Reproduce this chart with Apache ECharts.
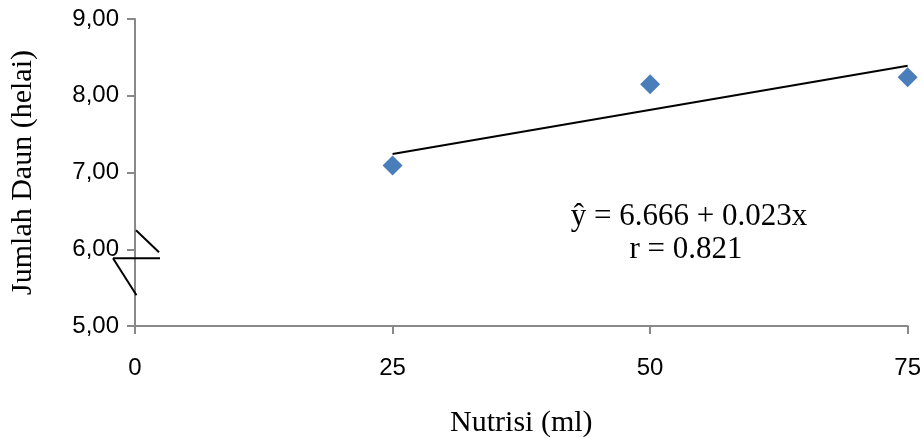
<!DOCTYPE html>
<html>
<head>
<meta charset="utf-8">
<script src="https://cdn.jsdelivr.net/npm/echarts@6/dist/echarts.min.js"></script>
<style>html,body{margin:0;padding:0;background:#fff}#c{width:924px;height:443px}</style>
</head>
<body>
<div id="c"></div>
<script>
const xValues = [25, 50, 75];
const leafCount = [7.09, 8.15, 8.24];
const trendX = [25, 75];
const trendY = [7.24, 8.39];
const xTicks = [0, 25, 50, 75];
const yTicks = [5, 6, 7, 8, 9];
const equationText = 'ŷ = 6.666 + 0.023x';
const rText = 'r = 0.821';
const xTitle = 'Nutrisi (ml)';
const yTitle = 'Jumlah Daun (helai)';

const chart = echarts.init(document.getElementById('c'), null, {renderer: 'canvas'});
const axisColor = '#898989';
const sans = 'Liberation Sans';
const serif = 'Liberation Serif';

chart.setOption({
  animation: false,
  backgroundColor: '#fff',
  grid: {left: 133.5, right: 14.5, top: 19, bottom: 114, containLabel: false},
  xAxis: {
    type: 'value', min: xTicks[0], max: xTicks[xTicks.length - 1], interval: 25,
    name: xTitle, nameLocation: 'middle', nameGap: 82,
    nameTextStyle: {fontFamily: serif, fontSize: 30, color: '#000'},
    axisLine: {show: true, onZero: false, lineStyle: {color: axisColor, width: 2}},
    axisTick: {show: true, length: 8, lineStyle: {color: axisColor, width: 2}},
    axisLabel: {margin: 30, fontFamily: sans, fontSize: 24, color: '#000'},
    splitLine: {show: false}
  },
  yAxis: {
    type: 'value', min: yTicks[0], max: yTicks[yTicks.length - 1], interval: 1,
    name: yTitle, nameLocation: 'middle', nameGap: 97, nameRotate: 90,
    nameTextStyle: {fontFamily: serif, fontSize: 30, color: '#000'},
    axisLine: {show: true, onZero: false, lineStyle: {color: axisColor, width: 2}},
    axisTick: {show: true, length: 8, lineStyle: {color: axisColor, width: 2}},
    axisLabel: {margin: 16, fontFamily: sans, fontSize: 24, color: '#000',
      formatter: v => v.toFixed(2).replace('.', ',')},
    splitLine: {show: false}
  },
  series: [
    {
      type: 'line', data: trendX.map((x, i) => [x, trendY[i]]),
      showSymbol: false, symbol: 'none',
      lineStyle: {color: '#000', width: 2}, z: 2
    },
    {
      type: 'scatter', data: xValues.map((x, i) => [x, leafCount[i]]),
      symbol: 'diamond', symbolSize: [20, 20],
      itemStyle: {color: '#4a7ebb', opacity: 1}, z: 3
    }
  ]
});

const a = chart.convertToPixel({gridIndex: 0}, [0, 6]);
const ls = {stroke: '#000', lineWidth: 2};
chart.setOption({
  graphic: [
    {type: 'line', shape: {x1: a[0] - 22, y1: a[1] + 9, x2: a[0] + 25, y2: a[1] + 9}, style: ls, z: 10},
    {type: 'line', shape: {x1: a[0] + 1, y1: a[1] - 19, x2: a[0] + 24, y2: a[1] + 3}, style: ls, z: 10},
    {type: 'line', shape: {x1: a[0] - 22, y1: a[1] + 9, x2: a[0] + 1.5, y2: a[1] + 46}, style: ls, z: 10},
    {type: 'text', x: 689, y: 217, style: {text: equationText, font: '31px "Liberation Serif"', fill: '#000', textAlign: 'center', textVerticalAlign: 'middle'}, z: 10},
    {type: 'text', x: 686, y: 250, style: {text: rText, font: '31px "Liberation Serif"', fill: '#000', textAlign: 'center', textVerticalAlign: 'middle'}, z: 10}
  ]
});
</script>
</body>
</html>
